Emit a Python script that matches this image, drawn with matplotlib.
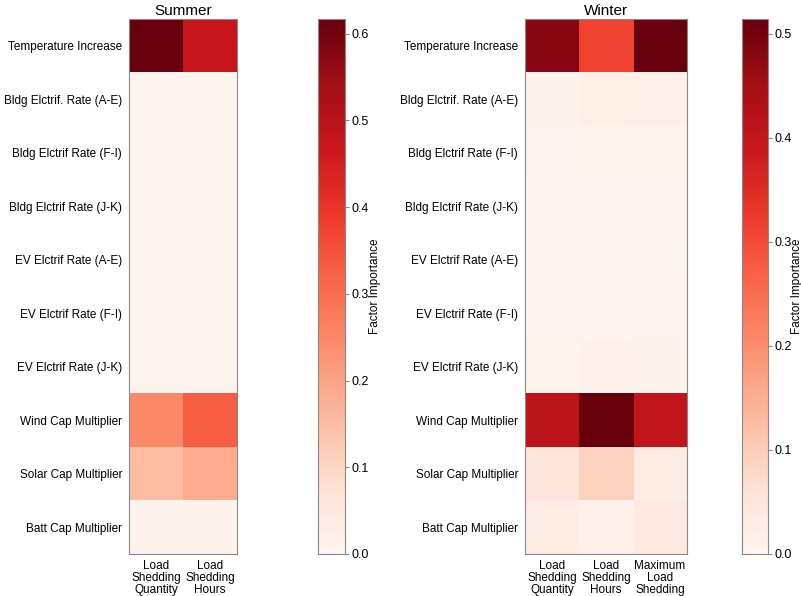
import matplotlib.pyplot as plt
import numpy as np

plt.rcParams['font.family'] = ['Liberation Sans', 'DejaVu Sans']

factors = ["Temperature Increase", "Bldg Elctrif. Rate (A-E)", "Bldg Elctrif Rate (F-I)",
           "Bldg Elctrif Rate (J-K)", "EV Elctrif Rate (A-E)", "EV Elctrif Rate (F-I)",
           "EV Elctrif Rate (J-K)", "Wind Cap Multiplier", "Solar Cap Multiplier",
           "Batt Cap Multiplier"]
summer_cols = ["Load\nShedding\nQuantity", "Load\nShedding\nHours"]
winter_cols = ["Load\nShedding\nQuantity", "Load\nShedding\nHours", "Maximum\nLoad\nShedding"]

# summer
summer_qty = [0.617, 0.004, 0.003, 0.003, 0.003, 0.003, 0.003, 0.25, 0.15, 0.012]
summer_hrs = [0.47, 0.004, 0.003, 0.003, 0.003, 0.003, 0.003, 0.33, 0.185, 0.012]

# winter
winter_qty = [0.48, 0.010, 0.006, 0.004, 0.003, 0.004, 0.008, 0.41, 0.05, 0.03]
winter_hrs = [0.31, 0.020, 0.008, 0.005, 0.004, 0.005, 0.012, 0.514, 0.09, 0.015]
winter_max = [0.51, 0.015, 0.008, 0.005, 0.004, 0.006, 0.010, 0.40, 0.03, 0.035]

summer = np.column_stack([summer_qty, summer_hrs])
winter = np.column_stack([winter_qty, winter_hrs, winter_max])

fig = plt.figure(figsize=(8.01, 5.96), dpi=100)
W, H = 801, 596

def px(x0, y0, x1, y1):
    return [x0 / W, 1 - y1 / H, (x1 - x0) / W, (y1 - y0) / H]

edge = '#888888'

def heat(ax_rect, cb_rect, data, cols, title):
    ax = fig.add_axes(px(*ax_rect))
    im = ax.imshow(data, cmap='Reds', aspect='auto', vmin=0, vmax=data.max(),
                   interpolation='nearest')
    ax.set_xticks(range(len(cols)))
    ax.set_xticklabels(cols, fontsize=8.5, linespacing=1.0)
    ax.set_yticks(range(len(factors)))
    ax.set_yticklabels(factors, fontsize=8.5)
    ax.tick_params(axis='y', length=0, pad=5)
    ax.tick_params(axis='x', length=0, pad=4)
    ax.set_title(title, fontsize=11, pad=3)
    for s in ax.spines.values():
        s.set_color(edge)
        s.set_linewidth(0.8)
    cax = fig.add_axes(px(*cb_rect))
    cb = fig.colorbar(im, cax=cax)
    cb.outline.set_edgecolor(edge)
    cb.outline.set_linewidth(0.8)
    cb.ax.tick_params(labelsize=9, color=edge, length=3, width=0.8, pad=2)
    cb.set_label('Factor Importance', fontsize=8.5)
    cb.ax.yaxis.label.set_va('center')
    cb.ax.yaxis.set_label_coords(2.1, 0.5)
    return ax

heat((129, 19, 237, 554), (318, 19, 345, 554), summer, summer_cols, 'Summer')
heat((525, 19, 687, 554), (742, 19, 768, 554), winter, winter_cols, 'Winter')

fig.savefig('out.png', dpi=100)
